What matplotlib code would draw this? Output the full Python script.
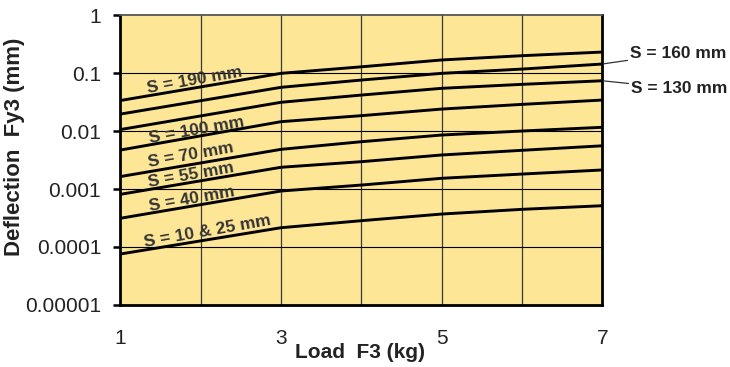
import matplotlib
matplotlib.use('Agg')
import matplotlib.pyplot as plt

# load points (kg) and deflection (mm)
load = [1, 3, 4, 5, 6, 7]
s190 = [0.0336, 0.0988, 0.128, 0.168, 0.199, 0.230]
s160 = [0.0196, 0.0567, 0.0757, 0.0988, 0.117, 0.143]
s130 = [0.0106, 0.0313, 0.0417, 0.0545, 0.0638, 0.0736]
s100 = [0.0047, 0.0145, 0.0184, 0.0239, 0.0288, 0.0342]
s70 = [0.00164, 0.00483, 0.00654, 0.00853, 0.0100, 0.0116]
s55 = [0.00081, 0.00237, 0.00296, 0.00386, 0.00465, 0.00556]
s40 = [0.000313, 0.000924, 0.00117, 0.00153, 0.00181, 0.00213]
s10_25 = [7.57e-5, 0.000215, 0.000284, 0.000370, 0.000446, 0.000515]

series = [s190, s160, s130, s100, s70, s55, s40, s10_25]

# in-plot labels: text, x, y
inner_labels = [
    ('S = 190 mm', 1.93, 0.0757),
    ('S = 100 mm', 1.95, 0.0104),
    ('S = 70 mm', 1.88, 0.00386),
    ('S = 55 mm', 1.88, 0.00174),
    ('S = 40 mm', 1.89, 0.000672),
    ('S = 10 & 25 mm', 2.09, 0.000189),
]

ytick_vals = [1e-5, 1e-4, 1e-3, 1e-2, 1e-1, 1]
ytick_text = ['0.00001', '0.0001', '0.001', '0.01', '0.1', '1']
xtick_vals = [1, 3, 5, 7]
xtick_text = ['1', '3', '5', '7']

fig = plt.figure(figsize=(7.3, 3.67), dpi=100)
ax = fig.add_axes([0.165, 0.169, 0.660, 0.790])
ax.set_facecolor('#FEE697')

ax.set_yscale('log')
ax.set_xlim(1, 7)
ax.set_ylim(1e-5, 1)

# grid
for gx in range(2, 7):
    ax.axvline(gx, color='#3a3a3a', lw=0.9, zorder=1)
for gy in [1e-4, 1e-3, 1e-2, 1e-1]:
    ax.axhline(gy, color='black', lw=0.8, zorder=1)

for s in series:
    ax.plot(load, s, color='black', lw=2.1, zorder=3, solid_capstyle='butt')

for txt, x, y in inner_labels:
    ax.text(x, y, txt, rotation=10, ha='center', va='center',
            fontsize=12.5, fontweight='bold', color='#333333',
            family='Liberation Sans', zorder=4)

# outside labels with leader lines
ax.annotate('S = 160 mm', xy=(7, s160[-1]), xytext=(28, 11),
            textcoords='offset pixels', ha='left', va='center',
            fontsize=12.5, fontweight='bold', color='#222222',
            family='Liberation Sans', annotation_clip=False,
            arrowprops=dict(arrowstyle='-', color='#333333', lw=0.9,
                            shrinkA=0, shrinkB=1))
ax.annotate('S = 130 mm', xy=(7, s130[-1]), xytext=(29, -8),
            textcoords='offset pixels', ha='left', va='center',
            fontsize=12.5, fontweight='bold', color='#222222',
            family='Liberation Sans', annotation_clip=False,
            arrowprops=dict(arrowstyle='-', color='#333333', lw=0.9,
                            shrinkA=0, shrinkB=1))

ax.set_yticks(ytick_vals)
ax.set_yticklabels(ytick_text)
ax.yaxis.set_minor_locator(matplotlib.ticker.NullLocator())
ax.set_xticks(xtick_vals)
ax.set_xticklabels(xtick_text)

ax.tick_params(axis='y', direction='out', length=5, width=1.8, pad=9,
               labelsize=15, colors='black')
ax.tick_params(axis='x', length=0, pad=17, labelsize=15)
for lab in ax.get_xticklabels() + ax.get_yticklabels():
    lab.set_family('Liberation Sans')
    lab.set_color('#222222')

for side in ['left', 'bottom', 'right']:
    ax.spines[side].set_linewidth(2.0)
    ax.spines[side].set_color('black')
ax.spines['top'].set_linewidth(1.3)
ax.spines['top'].set_color('#555555')

fig.text(360 / 730, 1 - 352 / 367, 'Load  F3 (kg)', ha='center', va='center',
         fontsize=15, fontweight='bold', color='#222222', family='Liberation Sans')
fig.text(15 / 730, 1 - 147 / 367, 'Deflection  Fy3 (mm)', ha='center', va='center',
         rotation=90, fontsize=16, fontweight='bold', color='#222222',
         family='Liberation Sans')

fig.savefig('out.png', dpi=100, facecolor='white')
